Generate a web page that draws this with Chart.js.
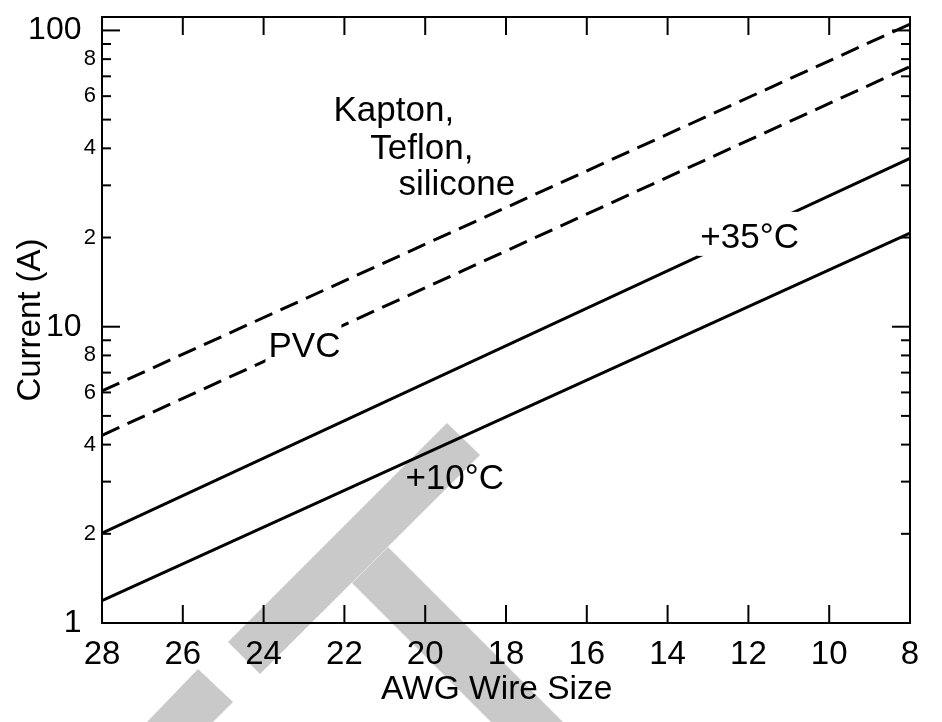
<!DOCTYPE html>
<html>
<head>
<meta charset="utf-8">
<script src="https://cdn.jsdelivr.net/npm/chart.js@4.4.1/dist/chart.umd.min.js"></script>
<style>
  html, body { margin: 0; padding: 0; background: #fff; }
  #wrap { width: 942px; height: 722px; position: relative; }
</style>
</head>
<body>
<div id="wrap"><canvas id="wireChart"></canvas></div>
<script>
// AWG gauge at the two ends of each rating curve
const awgGauges = [28, 8];
// current ratings in amps
const kaptonCurrent = [6.07, 105];
const pvcCurrent = [4.3, 75.5];
const hot35Current = [2.01, 37.0];
const cold10Current = [1.19, 20.7];

// tick labels
const xTickLabels = [28, 26, 24, 22, 20, 18, 16, 14, 12, 10, 8];
const yMajorTicks = [1, 10, 100];
const yMinorLabelled = [2, 4, 6, 8, 20, 40, 60, 80];
const yMinorPlain = [3, 5, 7, 9, 30, 50, 70, 90];

// curve captions, anchored at (AWG, amps) = left end of baseline
const captionText = ['Kapton,', 'Teflon,', 'silicone', 'PVC', '+35\u00B0C', '+10\u00B0C'];
const captionAwg = [22.27, 21.36, 20.66, 23.88, 13.19, 20.49];
const captionAmps = [49.5, 36.9, 27.9, 7.9, 18.45, 2.83];
const captionBoxed = [false, false, false, true, true, false];

const FONT = "'Liberation Sans', Arial, Helvetica, sans-serif";

// grey watermark behind the plot (canvas pixels)
const watermark = [
    [[447, 423], [480, 455], [260, 674], [228, 642]],
    [[198, 669], [233, 702], [213, 722], [147, 722]],
    [[388, 547], [352, 583], [491, 722], [563, 722]]
];

function pairs(ys) {
    return awgGauges.map((x, i) => ({ x: x, y: ys[i] }));
}

const decor = {
    id: 'decor',
    beforeDraw(chart) {
        const ctx = chart.ctx;
        ctx.save();
        ctx.fillStyle = '#fff';
        ctx.fillRect(0, 0, chart.width, chart.height);
        ctx.fillStyle = '#c9c9c9';
        watermark.forEach(poly => {
            ctx.beginPath();
            poly.forEach((p, i) => i ? ctx.lineTo(p[0], p[1]) : ctx.moveTo(p[0], p[1]));
            ctx.closePath();
            ctx.fill();
        });
        ctx.restore();
    },
    afterDatasetsDraw(chart) {
        const ctx = chart.ctx;
        const xs = chart.scales.x, ys = chart.scales.y;
        ctx.save();
        ctx.font = '35px ' + FONT;
        ctx.textBaseline = 'alphabetic';
        ctx.textAlign = 'left';
        captionText.forEach((t, i) => {
            const px = xs.getPixelForValue(captionAwg[i]);
            const py = ys.getPixelForValue(captionAmps[i]);
            if (captionBoxed[i]) {
                const w = ctx.measureText(t).width;
                ctx.fillStyle = '#fff';
                ctx.fillRect(px - 3, py - 36, w + 4, 44);
            }
            ctx.fillStyle = '#000';
            ctx.fillText(t, px, py);
        });
        ctx.restore();
    },
    afterDraw(chart) {
        const ctx = chart.ctx;
        const xs = chart.scales.x, ys = chart.scales.y;
        const { left, right, top, bottom } = chart.chartArea;
        ctx.save();
        ctx.strokeStyle = '#000';
        ctx.lineWidth = 2;
        ctx.strokeRect(left, top, right - left, bottom - top);

        const seg = (x1, y1, x2, y2) => { ctx.beginPath(); ctx.moveTo(x1, y1); ctx.lineTo(x2, y2); ctx.stroke(); };
        xTickLabels.forEach(v => {
            const px = xs.getPixelForValue(v);
            seg(px, bottom, px, bottom - 18);
            seg(px, top, px, top + 18);
        });
        yMajorTicks.forEach(v => {
            const py = ys.getPixelForValue(v);
            seg(left, py, left + 18, py);
            seg(right, py, right - 18, py);
        });
        yMinorLabelled.concat(yMinorPlain).forEach(v => {
            const py = ys.getPixelForValue(v);
            seg(left, py, left + 9, py);
            seg(right, py, right - 9, py);
        });

        // y tick labels: big for decades, small for 2-4-6-8
        ctx.fillStyle = '#000';
        ctx.textAlign = 'right';
        ctx.textBaseline = 'middle';
        ctx.font = '32px ' + FONT;
        yMajorTicks.forEach(v => ctx.fillText(String(v), left - 20.5, ys.getPixelForValue(v)));
        ctx.font = '22px ' + FONT;
        yMinorLabelled.forEach(v => ctx.fillText(String(v).charAt(0), left - 6, ys.getPixelForValue(v)));
        ctx.restore();
    }
};

function initWireChart() {
    const ctx = document.getElementById('wireChart').getContext('2d');
    const line = { borderColor: '#000', borderWidth: 3, pointRadius: 0, fill: false, tension: 0 };
    new Chart(ctx, {
        type: 'line',
        data: {
            datasets: [
                Object.assign({ label: 'Kapton, Teflon, silicone', data: pairs(kaptonCurrent), borderDash: [19, 9] }, line),
                Object.assign({ label: 'PVC', data: pairs(pvcCurrent), borderDash: [19, 9] }, line),
                Object.assign({ label: '+35°C', data: pairs(hot35Current) }, line),
                Object.assign({ label: '+10°C', data: pairs(cold10Current) }, line)
            ]
        },
        options: {
            responsive: true,
            maintainAspectRatio: false,
            animation: false,
            layout: { padding: { left: 0, top: 17, right: 32, bottom: 0 } },
            plugins: { legend: { display: false }, tooltip: { enabled: false } },
            scales: {
                x: {
                    type: 'linear', reverse: true, min: 8, max: 28,
                    afterBuildTicks: s => { s.ticks = xTickLabels.map(v => ({ value: v })); },
                    afterFit: s => { s.height = 99; },
                    grid: { display: false, drawTicks: false },
                    border: { display: false },
                    ticks: { color: '#000', font: { family: FONT, size: 33 }, padding: 12, autoSkip: false, maxRotation: 0 },
                    title: { display: true, text: 'AWG Wire Size  ', color: '#000', font: { family: FONT, size: 33.5 }, padding: { top: 0, bottom: 12 } }
                },
                y: {
                    type: 'logarithmic', min: 1, max: 111,
                    afterFit: s => { s.width = 102; },
                    grid: { display: false, drawTicks: false },
                    border: { display: false },
                    ticks: { display: false },
                    title: { display: true, text: 'Current (A)', color: '#000', font: { family: FONT, size: 33 }, padding: { top: 11, bottom: 0 } }
                }
            }
        },
        plugins: [decor]
    });
}

initWireChart();
</script>
</body>
</html>
